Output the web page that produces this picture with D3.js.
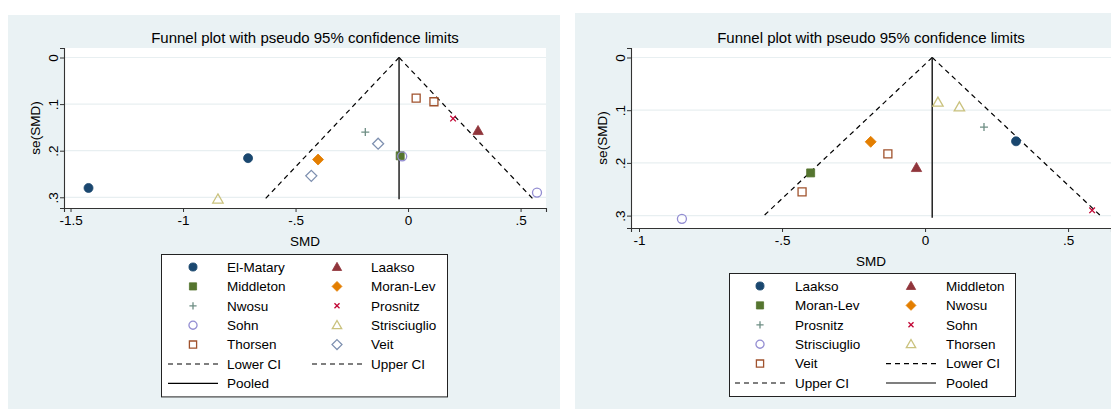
<!DOCTYPE html>
<html>
<head>
<meta charset="utf-8">
<script src="https://cdn.jsdelivr.net/npm/d3@7"></script>
<style>
  body { margin: 0; background: #fff; }
  svg { display: block; font-family: "Liberation Sans", Arial, sans-serif; }
</style>
</head>
<body>
<div id="chart"></div>
<script>
// ---- data ----

// left panel
const leftStudies = ["El-Matary", "El-Matary", "Laakso", "Middleton", "Moran-Lev", "Nwosu", "Prosnitz", "Sohn", "Sohn", "Strisciuglio", "Thorsen", "Thorsen", "Veit", "Veit"];
const leftSMD = [-1.42, -0.711, 0.311, -0.035, -0.40, -0.19, 0.20, 0.573, -0.026, -0.845, 0.036, 0.115, -0.133, -0.43];
const leftSE = [0.280, 0.216, 0.157, 0.211, 0.219, 0.160, 0.131, 0.290, 0.212, 0.304, 0.087, 0.095, 0.185, 0.254];
const leftLegend = ["El-Matary", "Laakso", "Middleton", "Moran-Lev", "Nwosu", "Prosnitz", "Sohn", "Strisciuglio", "Thorsen", "Veit"];
const leftPooled = -0.04;
const leftMaxSE = 0.304;
const leftXTicks = [-1.5, -1, -0.5, 0, 0.5];

// right panel
const rightStudies = ["Laakso", "Middleton", "Moran-Lev", "Nwosu", "Prosnitz", "Sohn", "Strisciuglio", "Thorsen", "Thorsen", "Veit", "Veit"];
const rightSMD = [0.318, -0.03, -0.40, -0.19, 0.206, 0.584, -0.85, 0.045, 0.12, -0.43, -0.13];
const rightSE = [0.159, 0.209, 0.219, 0.160, 0.132, 0.290, 0.306, 0.085, 0.094, 0.255, 0.183];
const rightLegend = ["Laakso", "Middleton", "Moran-Lev", "Nwosu", "Prosnitz", "Sohn", "Strisciuglio", "Thorsen", "Veit"];
const rightPooled = 0.025;
const rightMaxSE = 0.304;
const rightXTicks = [-1, -0.5, 0, 0.5];

const yTicks = [0, 0.1, 0.2, 0.3];
const titleText = "Funnel plot with pseudo 95% confidence limits";

// stata s2color marker styles, in order p1..p10
const styleColors = ["#1a476f", "#90353b", "#55752f", "#e37e00", "#6e8e84", "#c10534", "#938dd2", "#cac27e", "#a0522d", "#7e90b0"];
const styleShapes = ["circle", "triangle", "square", "diamond", "plus", "x", "ocircle", "otriangle", "osquare", "odiamond"];

const W = 1111, H = 409;
const bg = "#eaf2f4";

const svg = d3.select("#chart").append("svg")
    .attr("width", W)
    .attr("height", H);

function markerPath(shape, k) {
    const p = d3.path();
    if (shape.endsWith("circle")) {
        const r = 4.5 * k;
        p.arc(0, 0, r, 0, 2 * Math.PI);
    } else if (shape.endsWith("triangle")) {
        const s = 5.2 * k;
        p.moveTo(0, -s); p.lineTo(s, s * 0.75); p.lineTo(-s, s * 0.75); p.closePath();
    } else if (shape.endsWith("square")) {
        const s = 4 * k;
        p.rect(-s, -s, 2 * s, 2 * s);
    } else if (shape.endsWith("diamond")) {
        const s = 5.5 * k;
        p.moveTo(0, -s); p.lineTo(s, 0); p.lineTo(0, s); p.lineTo(-s, 0); p.closePath();
    } else if (shape === "plus") {
        const s = 4 * k;
        p.moveTo(-s, 0); p.lineTo(s, 0); p.moveTo(0, -s); p.lineTo(0, s);
    } else if (shape === "x") {
        const s = 2.8 * k;
        p.moveTo(-s, -s); p.lineTo(s, s); p.moveTo(-s, s); p.lineTo(s, -s);
    }
    return p.toString();
}

function drawMarker(g, shape, color, x, y, k) {
    const hollow = shape.startsWith("o") || shape === "plus" || shape === "x";
    g.append("path")
        .attr("d", markerPath(shape, k))
        .attr("transform", `translate(${x},${y})`)
        .attr("fill", hollow ? "none" : color)
        .attr("stroke", color)
        .attr("stroke-width", hollow ? 1.3 : 0.8);
}

function fmt(v) {
    if (v === 0) return "0";
    return String(v).replace("0.", ".");
}

function drawPanel(cfg) {
    const g = svg.append("g");

    // panel background
    g.append("rect")
        .attr("x", cfg.panel[0]).attr("y", cfg.panel[1])
        .attr("width", cfg.panel[2]).attr("height", cfg.panel[3])
        .attr("fill", bg);

    const x = d3.scaleLinear().domain(cfg.xDomain).range([cfg.plot[0], cfg.plot[1]]);
    const y = d3.scaleLinear().domain(cfg.yDomain).range([cfg.plot[2], cfg.plot[3]]);

    // plot region
    g.append("rect")
        .attr("x", cfg.plot[0]).attr("y", cfg.plot[2])
        .attr("width", cfg.plot[1] - cfg.plot[0])
        .attr("height", cfg.plot[3] - cfg.plot[2])
        .attr("fill", "#fff");

    // gridlines
    g.selectAll(".grid").data(yTicks).join("line")
        .attr("x1", cfg.plot[0]).attr("x2", cfg.plot[1])
        .attr("y1", d => y(d)).attr("y2", d => y(d))
        .attr("stroke", "#e8eff1").attr("stroke-width", 1.2);

    // axes
    const xAxis = g.append("g")
        .attr("transform", `translate(0,${cfg.plot[3]})`)
        .call(d3.axisBottom(x).tickValues(cfg.xTicks).tickFormat(fmt).tickSize(4).tickPadding(3));
    const yAxis = g.append("g")
        .attr("transform", `translate(${cfg.plot[0]},0)`)
        .call(d3.axisLeft(y).tickValues(yTicks).tickFormat(fmt).tickSize(4).tickPadding(3));
    [xAxis, yAxis].forEach(a => {
        a.select(".domain").attr("stroke", "#333").attr("stroke-width", 1.1);
        a.selectAll(".tick line").attr("stroke", "#333");
        a.selectAll("text").attr("fill", "#000").style("font-size", "13.5px")
            .style("font-family", "Liberation Sans, Arial, sans-serif");
    });
    // rotate y tick labels (Stata style)
    yAxis.selectAll(".tick text")
        .attr("x", null).attr("dy", null)
        .attr("text-anchor", "middle")
        .attr("transform", "translate(-11,0) rotate(-90)")
        .attr("dominant-baseline", "central");

    // axis titles
    g.append("text")
        .attr("x", (cfg.plot[0] + cfg.plot[1]) / 2)
        .attr("y", cfg.plot[3] + 38)
        .attr("text-anchor", "middle")
        .style("font-size", "13.5px")
        .text("SMD");
    g.append("text")
        .attr("transform", `translate(${cfg.plot[0] - 29},${(cfg.plot[2] + cfg.plot[3]) / 2}) rotate(-90)`)
        .attr("text-anchor", "middle")
        .attr("dominant-baseline", "central")
        .style("font-size", "13.5px")
        .text("se(SMD)");

    // title
    g.append("text")
        .attr("x", (cfg.plot[0] + cfg.plot[1]) / 2)
        .attr("y", 43)
        .attr("text-anchor", "middle")
        .style("font-size", "15px")
        .text(titleText);

    // confidence limits and pooled line
    const ciLine = d3.line().x(d => x(d[0])).y(d => y(d[1]));
    const z = 1.96;
    const lower = [[cfg.pooled, 0], [cfg.pooled - z * cfg.maxSE, cfg.maxSE]];
    const upper = [[cfg.pooled, 0], [cfg.pooled + z * cfg.maxSE, cfg.maxSE]];
    [lower, upper].forEach(seg => {
        g.append("path").attr("d", ciLine(seg))
            .attr("fill", "none").attr("stroke", "#000")
            .attr("stroke-width", 1.2).attr("stroke-dasharray", "5,4");
    });
    g.append("path").attr("d", ciLine([[cfg.pooled, 0], [cfg.pooled, cfg.maxSE]]))
        .attr("fill", "none").attr("stroke", "#222").attr("stroke-width", 1.5);

    // study points, drawn in legend (style) order
    const pts = g.append("g");
    cfg.legend.forEach((name, i) => {
        cfg.studies.forEach((s, j) => {
            if (s === name) drawMarker(pts, styleShapes[i], styleColors[i], x(cfg.smd[j]), y(cfg.se[j]), 1);
        });
    });

    // legend
    const lg = g.append("g");
    const items = cfg.legend.map((name, i) => ({ label: name, type: "marker", i }))
        .concat([{ label: "Lower CI", type: "dash" }, { label: "Upper CI", type: "dash" }, { label: "Pooled", type: "solid" }]);
    const nRows = Math.ceil(items.length / 2);
    const rowH = 19.4;
    const boxH = 26 + (nRows - 1) * rowH;
    lg.append("rect")
        .attr("x", cfg.legendBox[0] + 0.5).attr("y", cfg.legendBox[1] + 0.5)
        .attr("width", cfg.legendBox[2]).attr("height", boxH)
        .attr("fill", "#fff").attr("stroke", "#222").attr("stroke-width", 1);
    items.forEach((it, k) => {
        const row = Math.floor(k / 2), col = k % 2;
        const cy = cfg.legendBox[1] + 13 + row * rowH;
        const mx = cfg.legendBox[0] + cfg.keyX[col];
        const tx = cfg.legendBox[0] + cfg.textX[col];
        if (it.type === "marker") {
            drawMarker(lg, styleShapes[it.i], styleColors[it.i], mx, cy, 0.9);
        } else {
            lg.append("line")
                .attr("x1", mx - 25).attr("x2", mx + 25)
                .attr("y1", cy).attr("y2", cy)
                .attr("stroke", "#000").attr("stroke-width", 1.2)
                .attr("stroke-dasharray", it.type === "dash" ? "5,4" : null);
        }
        lg.append("text")
            .attr("x", tx).attr("y", cy + 4.7)
            .style("font-size", "13.5px")
            .text(it.label);
    });
}

drawPanel({
    panel: [8, 15, 552, 394],
    plot: [64, 546, 48, 208],
    xDomain: [-1.529, 0.613],
    yDomain: [-0.0204, 0.323],
    xTicks: leftXTicks,
    studies: leftStudies, smd: leftSMD, se: leftSE,
    legend: leftLegend,
    pooled: leftPooled, maxSE: leftMaxSE,
    legendBox: [161, 254, 286],
    keyX: [32, 176], textX: [66, 210]
});

drawPanel({
    panel: [575, 13, 536, 396],
    plot: [631, 1111, 48, 228],
    xDomain: [-1.028, 0.650],
    yDomain: [-0.018, 0.3235],
    xTicks: rightXTicks,
    studies: rightStudies, smd: rightSMD, se: rightSE,
    legend: rightLegend,
    pooled: rightPooled, maxSE: rightMaxSE,
    legendBox: [729, 273, 286],
    keyX: [31, 182], textX: [66, 217]
});
</script>
</body>
</html>
